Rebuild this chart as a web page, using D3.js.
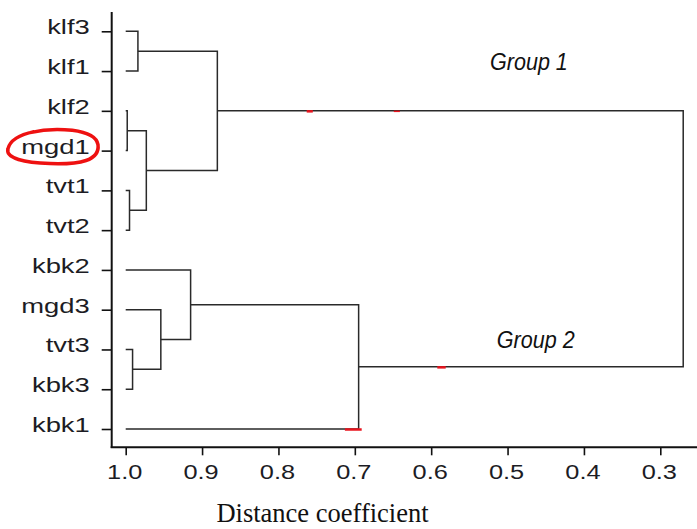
<!DOCTYPE html>
<html>
<head>
<meta charset="utf-8">
<script src="https://cdn.jsdelivr.net/npm/d3@7"></script>
<style>
  body { margin: 0; background: #fff; }
  svg { display: block; }
  .leaf text, .dist text { font-family: "Liberation Sans", Arial, sans-serif; fill: #1c1c24; }
</style>
</head>
<body>
<div id="chartspace"></div>
<script>
// leaves, top to bottom
var leaves = ["klf3", "klf1", "klf2", "mgd1", "tvt1", "tvt2", "kbk2", "mgd3", "tvt3", "kbk3", "kbk1"];

// merge steps (like hclust): id, left, right, distance coefficient
var mergeIds    = ["n1", "n2", "n3", "n4", "n5", "n6", "n7", "n8", "n9", "n10"];
var mergeLeft   = ["klf3", "klf2", "tvt1", "n2", "n1", "tvt3", "mgd3", "kbk2", "n8", "n5"];
var mergeRight  = ["klf1", "mgd1", "tvt2", "n3", "n4", "kbk3", "n6", "n7", "kbk1", "n9"];
var mergeHeight = [0.984, 0.998, 0.995, 0.973, 0.880, 0.991, 0.954, 0.915, 0.695, 0.270];

var tickValues = [1.0, 0.9, 0.8, 0.7, 0.6, 0.5, 0.4, 0.3];

var groupNames = ["Group 1", "Group 2"];
var groupAt    = [0.523, 0.514];       // distance where label starts
var groupLeaf  = ["klf1", "tvt3"];     // row the label sits on

// little red marks left on the original figure
var redFrom = [0.763, 0.649, 0.592, 0.713];
var redTo   = [0.755, 0.641, 0.581, 0.691];
var redNode = ["n5", "n5", "n9", "kbk1"];

var width = 697, height = 529;

var svg = d3.select("#chartspace").append("svg")
    .attr("width", width)
    .attr("height", height);

var x = d3.scaleLinear().domain([1.0, 0.3]).range([125.7, 660.3]);
var y = d3.scalePoint().domain(leaves).range([31.3, 429]);

function build(id) {
    var i = mergeIds.indexOf(id);
    if (i < 0) return { name: id, h: 1.0 };
    return { name: id, h: mergeHeight[i], children: [build(mergeLeft[i]), build(mergeRight[i])] };
}

var root = d3.hierarchy(build(mergeIds[mergeIds.length - 1]));
root.eachAfter(function (d) {
    d.px = x(d.data.h);
    d.py = d.children ? d3.mean(d.children, function (c) { return c.py; }) : y(d.data.name);
});

var byName = {};
root.each(function (d) { byName[d.data.name] = d; });

// frame
svg.append("line")
    .attr("x1", 111.7).attr("x2", 111.7)
    .attr("y1", 12).attr("y2", 448)
    .attr("stroke", "#111").attr("stroke-width", 2);
svg.append("line")
    .attr("x1", 110.7).attr("x2", width)
    .attr("y1", 447.3).attr("y2", 447.3)
    .attr("stroke", "#111").attr("stroke-width", 2);

// leaf axis
var leafAxis = svg.append("g")
    .attr("class", "leaf")
    .attr("transform", "translate(111.7,0)")
    .call(d3.axisLeft(y).tickSize(10).tickPadding(6));
leafAxis.select(".domain").remove();
leafAxis.selectAll("line").attr("stroke", "#111").attr("stroke-width", 1.6);
leafAxis.selectAll("text")
    .attr("font-size", 20)
    .attr("dy", "0.12em")
    .attr("transform", "scale(1.37,1)");

// distance axis
var distAxis = svg.append("g")
    .attr("class", "dist")
    .attr("transform", "translate(0,447.3)")
    .call(d3.axisBottom(x).tickValues(tickValues).tickFormat(d3.format(".1f")).tickSize(8));
distAxis.select(".domain").remove();
distAxis.selectAll("line").attr("stroke", "#111").attr("stroke-width", 1.6);
distAxis.selectAll("text")
    .attr("font-size", 19.5)
    .attr("y", 18)
    .attr("transform", "translate(-1.5,0) scale(1.3,1)");

// dendrogram
svg.append("g").selectAll("path")
    .data(root.descendants().filter(function (d) { return d.children; }))
    .enter().append("path")
    .attr("fill", "none")
    .attr("stroke", "#2a2a2a")
    .attr("stroke-width", 1.5)
    .attr("d", function (d) {
        var a = d.children[0], b = d.children[1];
        return "M" + a.px + "," + a.py + "H" + d.px + "V" + b.py + "H" + b.px;
    });

// red marks
svg.append("g").selectAll("line")
    .data(redFrom)
    .enter().append("line")
    .attr("x1", function (d) { return x(d); })
    .attr("x2", function (d, i) { return x(redTo[i]); })
    .attr("y1", function (d, i) { return byName[redNode[i]].py + 0.5; })
    .attr("y2", function (d, i) { return byName[redNode[i]].py + 0.5; })
    .attr("stroke", "#e8141e")
    .attr("stroke-width", function (d, i) { return i === 1 ? 1.5 : 2.5; });

// circle around mgd1
var my = y("mgd1");
svg.append("path")
    .attr("fill", "none")
    .attr("stroke", "#ee1111")
    .attr("stroke-width", 3.5)
    .attr("d", "M30," + (my - 18) +
        "C55," + (my - 24) + " 95," + (my - 22) + " 98," + (my - 6) +
        "C100," + (my + 10) + " 80," + (my + 14) + " 50," + (my + 13) +
        "C25," + (my + 12) + " 5," + (my + 8) + " 8," + (my - 2) +
        "C10," + (my - 10) + " 20," + (my - 16) + " 34," + (my - 19));

// group labels
svg.append("g").selectAll("text")
    .data(groupNames)
    .enter().append("text")
    .attr("transform", function (d, i) {
        return "translate(" + x(groupAt[i]) + "," + (y(groupLeaf[i]) - 1) + ") scale(0.88,1)";
    })
    .attr("font-family", "Liberation Sans, Arial, sans-serif")
    .attr("font-style", "italic")
    .attr("font-size", 24.5)
    .attr("fill", "#111")
    .text(function (d) { return d; });

// axis title
svg.append("text")
    .attr("x", 322.5)
    .attr("y", 522)
    .attr("text-anchor", "middle")
    .attr("font-family", "Liberation Serif, Times New Roman, serif")
    .attr("font-size", 26.5)
    .attr("fill", "#111")
    .text("Distance coefficient");
</script>
</body>
</html>
